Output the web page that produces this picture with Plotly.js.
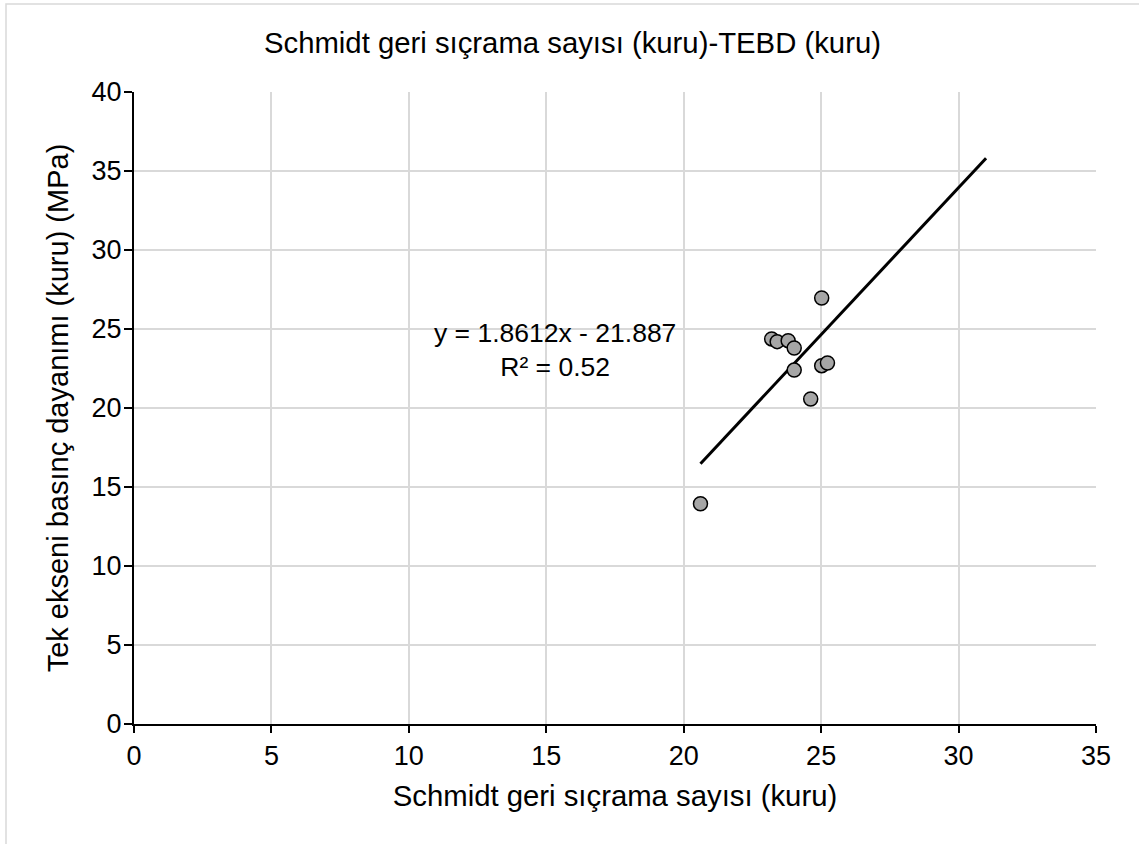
<!DOCTYPE html>
<html>
<head>
<meta charset="utf-8">
<script src="https://cdn.plot.ly/plotly-3.0.1.min.js"></script>
<style>
html,body{margin:0;padding:0;background:#fff;}
#chart{width:1139px;height:844px;}
</style>
</head>
<body>
<div id="chart"></div>
<script>
// Data
const schmidtValues = [20.61, 23.20, 23.40, 23.80, 24.02, 24.02, 24.62, 25.02, 25.02, 25.23];
const tebdValues    = [13.94, 24.37, 24.20, 24.26, 23.80, 22.40, 20.57, 26.96, 22.68, 22.85];
const trendSlope = 1.8612;
const trendIntercept = -21.887;
const trendXEnd = 31.0;
const rSquared = 0.52;
const xTickVals = [0, 5, 10, 15, 20, 25, 30, 35];
const yTickVals = [0, 5, 10, 15, 20, 25, 30, 35, 40];

const chartTitle = "Schmidt geri sıçrama sayısı (kuru)-TEBD (kuru)";
const xTitle = "Schmidt geri sıçrama sayısı (kuru)";
const yTitle = "Tek ekseni basınç dayanımı (kuru) (MPa)";

const xMin = Math.min(...schmidtValues);
const trendX = [xMin, trendXEnd];
const trendY = trendX.map(x => trendSlope * x + trendIntercept);

const font = "Liberation Sans, Arial, sans-serif";

const traces = [
  {
    x: trendX, y: trendY, type: "scatter", mode: "lines",
    line: {color: "#000000", width: 3},
    hoverinfo: "skip", showlegend: false
  },
  {
    x: schmidtValues, y: tebdValues, type: "scatter", mode: "markers",
    marker: {size: 14, color: "#a6a6a6", line: {color: "#000000", width: 1.5}},
    showlegend: false
  }
];

const layout = {
  width: 1139, height: 844,
  paper_bgcolor: "#ffffff", plot_bgcolor: "#ffffff",
  margin: {l: 134, r: 43, t: 92, b: 120},
  font: {family: font, color: "#000000"},
  title: {
    text: chartTitle, font: {family: font, size: 29.3, color: "#000000"},
    xref: "container", yref: "container", x: 0.5026, y: 0.949,
    xanchor: "center", yanchor: "middle"
  },
  xaxis: {
    range: [0, 35], tickvals: xTickVals, ticktext: xTickVals.map(String),
    showgrid: true, gridcolor: "#d9d9d9", gridwidth: 2,
    showline: true, linecolor: "#000000", linewidth: 2,
    ticks: "outside", ticklen: 7, tickwidth: 2, tickcolor: "#000000",
    tickfont: {family: font, size: 27, color: "#000000"},
    zeroline: false, fixedrange: true, automargin: false,
    title: {text: xTitle, font: {family: font, size: 29.3, color: "#000000"}, standoff: 15}
  },
  yaxis: {
    range: [0, 40], tickvals: yTickVals, ticktext: yTickVals.map(String),
    showgrid: true, gridcolor: "#d9d9d9", gridwidth: 2,
    showline: true, linecolor: "#000000", linewidth: 2,
    ticks: "outside", ticklen: 8, tickwidth: 2, tickcolor: "#000000",
    tickfont: {family: font, size: 27, color: "#000000"},
    ticklabelstandoff: -3,
    zeroline: false, fixedrange: true, automargin: false,
    title: {text: yTitle, font: {family: font, size: 29, color: "#000000"}, standoff: 14}
  },
  annotations: [{
    x: 15.32, y: 23.7, xref: "x", yref: "y",
    text: "y = " + trendSlope + "x - " + Math.abs(trendIntercept) + "<br>R² = " + rSquared,
    showarrow: false, align: "center", xanchor: "center", yanchor: "middle",
    font: {family: font, size: 26.5, color: "#000000"}
  }],
  shapes: [{
    type: "rect", xref: "paper", yref: "paper",
    x0: (6 - 134) / 962, x1: (1150 - 134) / 962,
    y0: (724 - 860) / 632, y1: 1 + (92 - 4) / 632,
    line: {color: "#d9d9d9", width: 1.5}, fillcolor: "rgba(0,0,0,0)", layer: "below"
  }]
};

Plotly.newPlot("chart", traces, layout, {displayModeBar: false, staticPlot: true});
</script>
</body>
</html>
